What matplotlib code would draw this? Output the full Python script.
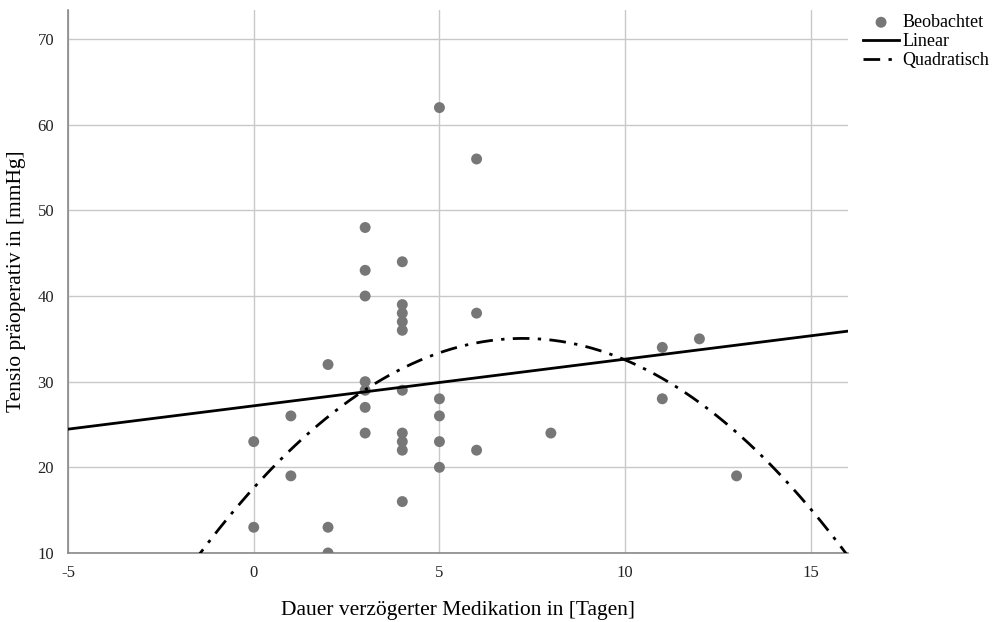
import numpy as np
import matplotlib
matplotlib.use('Agg')
import matplotlib.pyplot as plt

plt.rcParams['font.family'] = ['Liberation Serif', 'DejaVu Serif']
plt.rcParams['axes.unicode_minus'] = False

# observed points (days, mmHg)
days = [0, 0, 1, 1, 2, 2, 2,
        3, 3, 3, 3, 3, 3, 3,
        4, 4, 4, 4, 4, 4, 4, 4, 4, 4,
        5, 5, 5, 5, 5,
        6, 6, 6, 8, 11, 11, 12, 13]
tensio = [23, 13, 26, 19, 32, 13, 10,
          48, 43, 40, 30, 29, 27, 24,
          44, 39, 38, 37, 36, 29, 24, 23, 22, 16,
          62, 28, 26, 23, 20,
          56, 38, 22, 24, 34, 28, 35, 19]

# fitted curves
lin_coef = [0.545, 27.18]
quad_coef = [-0.332, 4.814, 17.60]

xticks = [-5, 0, 5, 10, 15]
yticks = [10, 20, 30, 40, 50, 60, 70]

fig = plt.figure(figsize=(9.96, 6.22), dpi=100)
ax = fig.add_axes([0.0683, 0.111, 0.7831, 0.873])

ax.grid(True, color='#c8c8c8', linewidth=1.0, zorder=0)
ax.set_axisbelow(True)

ax.scatter(days, tensio, s=62, color='#777777', edgecolors='none',
           zorder=3, label='Beobachtet')

xx = np.linspace(-5, 16, 400)
ax.plot(xx, np.polyval(lin_coef, xx), color='black', lw=2.0,
        zorder=4, label='Linear')
ax.plot(xx, np.polyval(quad_coef, xx), color='black', lw=2.0,
        dashes=[6, 3, 1.2, 3], zorder=4, label='Quadratisch')

ax.set_xlim(-5, 16)
ax.set_ylim(10, 73.4)
ax.set_xticks(xticks)
ax.set_yticks(yticks)
ax.tick_params(length=0, labelsize=12, colors='#222222')
ax.tick_params(axis='x', pad=9)
ax.tick_params(axis='y', pad=10)

for s in ['top', 'right']:
    ax.spines[s].set_visible(False)
for s in ['left', 'bottom']:
    ax.spines[s].set_color('#888888')
    ax.spines[s].set_linewidth(1.2)

ax.set_xlabel('Dauer verzögerter Medikation in [Tagen]', fontsize=15.5,
              labelpad=14)
ax.set_ylabel('Tensio präoperativ in [mmHg]', fontsize=15.5, labelpad=8)

leg = ax.legend(loc='upper left', bbox_to_anchor=(863 / 996, 1 - 14 / 622),
                bbox_transform=fig.transFigure, frameon=False,
                fontsize=13, handlelength=2.0, handletextpad=0.2,
                labelspacing=0.12, borderpad=0, borderaxespad=0)

fig.savefig('out.png', dpi=100)
